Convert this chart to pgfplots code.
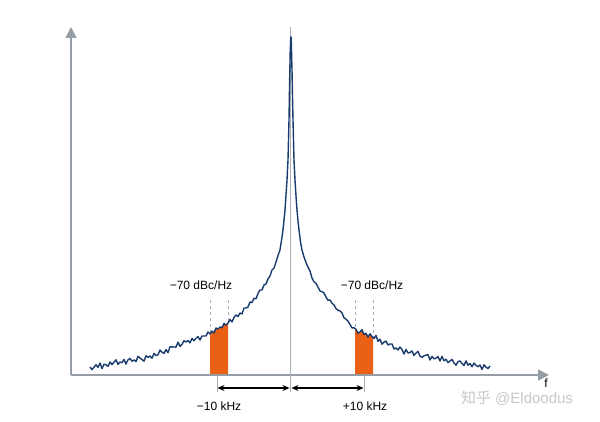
\documentclass[border=0pt]{standalone}
\usepackage{pgfplots}
\pgfplotsset{compat=1.18}
\usepackage{fontspec}
\setmainfont{Liberation Sans}
\newfontfamily\cjk{Noto Sans CJK SC}
\usetikzlibrary{arrows.meta}
\definecolor{curve}{RGB}{24,58,108}
\definecolor{band}{RGB}{234,96,20}
\definecolor{axgray}{RGB}{150,156,164}
\begin{document}
\begin{tikzpicture}
\useasboundingbox (0,0) rectangle (600pt,422pt);
\begin{axis}[x=1pt,y=1pt,xmin=0,xmax=600,ymin=0,ymax=422,hide axis,clip=false,
  anchor=south west, at={(0,0)}]
% orange bands
\addplot[fill=band,draw=none] coordinates {(210,47)(210,88)(212,91)(214,89)(216,94)(218,93)(220,95)(222,94.3)(224,98.5)(226,96.8)(228,99)(228,47)} -- cycle;
\addplot[fill=band,draw=none] coordinates {(355,47)(355,93)(356,92.6)(358,88.8)(360,90)(362,92.3)(364,87.5)(366,88.7)(368,84.9)(370,88.2)(372,85.4)(373,84.5)(373,47)} -- cycle;
% axes
\draw[axgray,line width=1.6pt,-{Triangle[width=11pt,length=11pt]}] (axis cs:71,47) -- (axis cs:71,395);
\draw[axgray,line width=1.6pt,-{Triangle[width=11pt,length=11pt]}] (axis cs:71,47) -- (axis cs:549,47);
% centre line
\draw[axgray!80,line width=0.8pt] (axis cs:290.5,30) -- (axis cs:290.5,395);
% dashed markers
\draw[axgray!80,dashed,line width=0.6pt] (axis cs:210,122) -- (axis cs:210,88);
\draw[axgray!80,dashed,line width=0.6pt] (axis cs:228,122) -- (axis cs:228,99);
\draw[axgray!80,dashed,line width=0.6pt] (axis cs:355,122) -- (axis cs:355,93);
\draw[axgray!80,dashed,line width=0.6pt] (axis cs:373,122) -- (axis cs:373,85);
% offset ticks
\draw[axgray!80,line width=0.8pt] (axis cs:217,47) -- (axis cs:217,30);
\draw[axgray!80,line width=0.8pt] (axis cs:364,47) -- (axis cs:364,30);
% arrows
\draw[black,line width=1.1pt,{Stealth[length=7pt,width=6pt]}-{Stealth[length=7pt,width=6pt]}] (axis cs:217.5,34) -- (axis cs:289.5,34);
\draw[black,line width=1.1pt,{Stealth[length=7pt,width=6pt]}-{Stealth[length=7pt,width=6pt]}] (axis cs:291.5,34) -- (axis cs:363.5,34);
% spectrum
\addplot[curve,line width=1.4pt,line join=round] coordinates {
(90,55)(92,52.4)(94,54.8)(96,57.2)(98,54.6)(100,59)(102,53.4)(104,57.8)(106,57.2)(108,55.6)
(110,60)(112,57.4)(114,59.8)(116,62.2)(118,57.6)(120,60)(122,59.3)(124,62.6)(126,57.9)(128,62.2)
(130,63.5)(132,60.8)(134,62.1)(136,60.4)(138,65.7)(140,64)(142,62.4)(144,60.8)(146,66.2)(148,64.6)
(150,66)(152,63.8)(154,68.6)(156,66.4)(158,67.2)(160,72)(162,69.8)(164,68.6)(166,72.4)(168,69.3)
(170,75.2)(172,75.1)(174,75)(176,74.9)(178,79.8)(180,75.7)(182,77.6)(184,81.3)(186,79.9)(188,81.5)
(190,79.1)(192,83.6)(194,81.2)(196,83.8)(198,85.4)(200,82)(202,86)(204,86)(206,86)(208,90)
(210,88)(212,91)(214,89)(216,94)(218,93)(220,95)(222,94.3)(224,98.5)(226,96.8)(228,99)
(230,102.5)(232,100)(234,104.5)(236,107)(238,105.5)(240,109)(242,108)(244,114)(246,114)(248,115)
(250,120)(252,119.4)(254,123.8)(256,123.2)(258,128.6)(260,132)(262,132)(264,137)(266,138)(268,143)
(270,146)(272,152)(274,154)(276,160)(278,166.5)(280,172)(282,185)(283,192)(284,202)(285,212)(286,227)
(287,242)(288,262)(289,302)(289.6,340)(290.2,370)(290.8,385)(291.2,385)(291.8,360)
(292,352)(292.5,325)(293,302)(294,262)(295,242)(296,226)(297,212)(298,201)(299,192)(300.5,180)
(302,172)(304,165)(307,157)(310,151)(312,144)
(314,140.1)(316,138.7)(318,134.9)(320,131)(322,130.3)(324,129.1)(326,124.9)(328,121.7)(330,122)
(332,118.8)(334,117.1)(336,113.4)(338,111.7)(340,111)(342,109.1)(344,104.2)(346,102.8)(348,100.9)(350,97.5)
(352,94.1)(354,94.2)(356,92.6)(358,88.8)(360,90)(362,92.3)(364,87.5)(366,88.7)(368,84.9)(370,88.2)
(372,85.4)(374,83.5)(376,86.6)(378,80.6)(380,82.7)(382,77.8)(384,79.9)(386,80.9)(388,77)(390,78)
(392,78)(394,73)(396,74)(398,72)(400,75)(402,72.5)(404,68)(406,72.5)(408,69)(410,69.5)
(412,71)(414,66.5)(416,69)(418,70.5)(420,66)(422,64.6)(424,66.2)(426,66.8)(428,67.4)(430,62)
(432,65.6)(434,63.2)(436,63.8)(438,65.4)(440,61)(442,65.6)(444,61.2)(446,62.8)(448,59.4)(450,61)
(452,62.6)(454,59.2)(456,56.8)(458,60.4)(460,61)(462,58.7)(464,56.4)(466,61.1)(468,56.8)(470,58.5)
(472,55.2)(474,58.9)(476,56.6)(478,55.3)(480,57)(482,52.6)(484,57.2)(486,54.8)(488,53.4)(490,56)
};
% labels
\node[font=\fontsize{12}{14}\selectfont] at (axis cs:201,137) {\char"2212 70 dBc/Hz};
\node[font=\fontsize{12}{14}\selectfont] at (axis cs:372,137) {\char"2212 70 dBc/Hz};
\node[font=\fontsize{12}{14}\selectfont] at (axis cs:219,16) {\char"2212 10 kHz};
\node[font=\fontsize{12}{14}\selectfont] at (axis cs:365,16) {+10 kHz};
\node[font=\fontsize{12}{14}\selectfont] at (axis cs:546,39) {f};
\node[font=\fontsize{15}{17}\selectfont,text=black!22] at (axis cs:517,24) {{\cjk 知乎} @Eldoodus};
\end{axis}
\end{tikzpicture}
\end{document}
